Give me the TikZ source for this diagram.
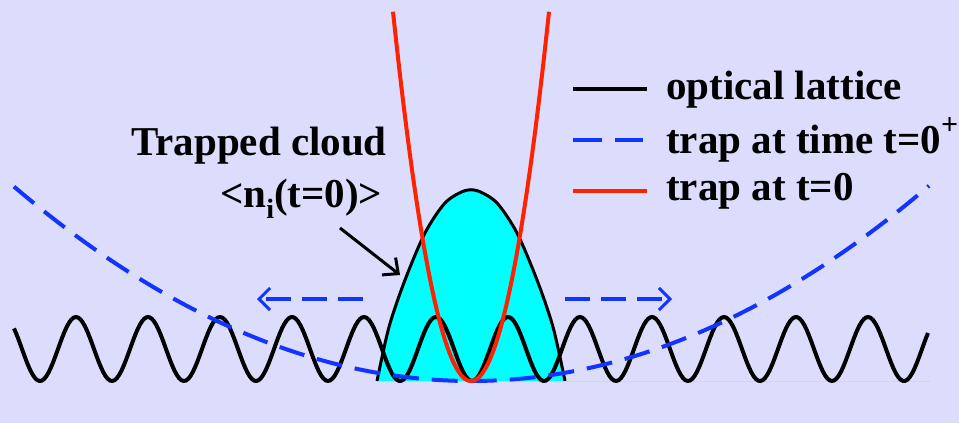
\documentclass[tikz,border=0pt]{standalone}
\usepackage{fontspec}
\setmainfont{Liberation Serif}
\usetikzlibrary{arrows.meta}
\definecolor{bg}{RGB}{220,220,252}
\definecolor{trapblue}{RGB}{18,52,255}
\definecolor{trapred}{RGB}{255,34,0}
\definecolor{cloudcyan}{RGB}{0,255,255}
\definecolor{basecyan}{RGB}{175,225,250}
\tikzset{
  lattice/.style={line width=4pt,black,line join=round},
  trapnow/.style={line width=4pt,trapred},
  trapafter/.style={line width=4pt,trapblue,dash pattern=on 26pt off 13pt},
  movearrow/.style={line width=3.5pt,trapblue,dash pattern=on 25pt off 11pt,-{Straight Barb[length=11pt,width=22pt,line width=3pt]}},
  label/.style={font=\bfseries\fontsize{41}{48}\selectfont,inner sep=0pt},
}
\begin{document}
\begin{tikzpicture}[x=1pt,y=-1pt]
\fill[bg] (0,0) rectangle (959,423);
\useasboundingbox (0,0) rectangle (959,423);
% cloud
\fill[cloudcyan] plot[smooth,tension=0.5] coordinates {(377,381)(389,327)(405,280)(425,233)(445,203)(464,191)(478,191)(497,203)(517,233)(537,280)(553,327)(565,381)} -- cycle;
\draw[line width=3pt,black] plot[smooth,tension=0.5] coordinates {(377,381)(389,327)(405,280)(425,233)(445,203)(464,191)(478,191)(497,203)(517,233)(537,280)(553,327)(565,381)};
\draw[basecyan,line width=1pt] (378,381) -- (930,381);
% lattice
\draw[lattice] plot[domain=14:928,samples=400] (\x,{349+32*cos(5*(\x-472))});
% trap at t=0+
\draw[trapafter] plot[domain=14:929,samples=120] (\x,{381-0.000924*(\x-471)*(\x-471)});
% trap at t=0
\draw[trapnow] plot[domain=393:549,samples=100] (\x,{381-0.0607*(\x-471)*(\x-471)});
% expansion arrows
\coordinate (la) at (363,299); \coordinate (lb) at (257,299);
\coordinate (ra) at (565,299); \coordinate (rb) at (672,299);
\draw[movearrow] (la) -- (lb);
\draw[movearrow] (ra) -- (rb);
% cloud label
\node[label,anchor=base west] (tc) at (131,155) {Trapped cloud};
\node[label,anchor=base west] (ni) at (220,207) {<n\raisebox{-11pt}{\fontsize{28}{28}\selectfont i}(t=0)>};
\coordinate (tip) at (400,275);
\draw[line width=3pt,-{Straight Barb[length=12pt,width=22pt,line width=3pt]}] (340,228) -- (tip);
% legend
\node[label,anchor=base west] (l1) at (666,99) {optical lattice};
\node[label,anchor=base west] (l2) at (666,153) {trap at time t=0\raisebox{19pt}{\fontsize{30}{30}\selectfont +}};
\node[label,anchor=base west] (l3) at (666,200) {trap at t=0};
\draw[line width=4pt,black] (573,89) -- (647,89);
\draw[line width=4pt,trapblue] (573,140) -- (602,140) (615,140) -- (643,140);
\draw[line width=4pt,trapred] (573,191) -- (647,191);
\end{tikzpicture}
\end{document}
